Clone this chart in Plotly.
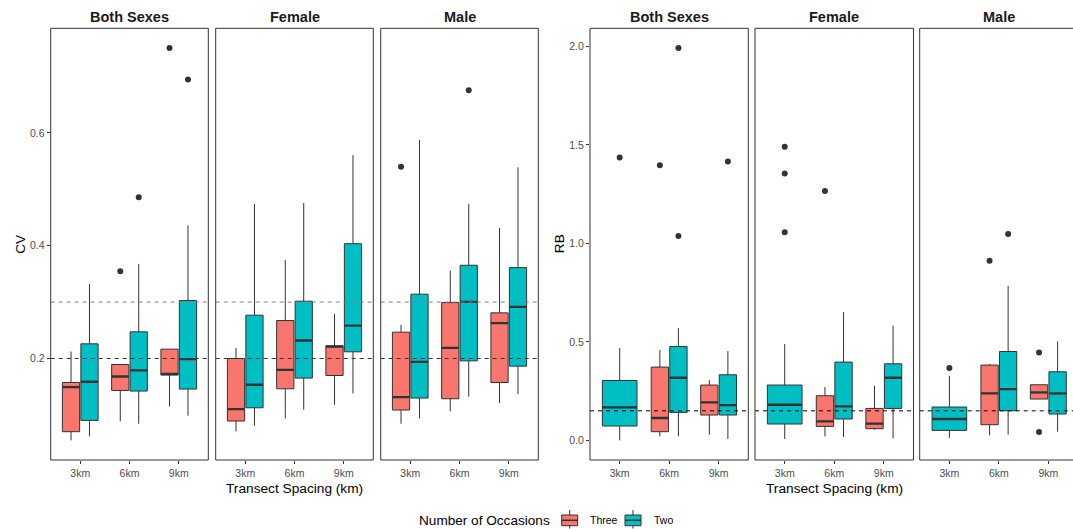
import plotly.graph_objects as go

# ---------------------------------------------------------------------------
# Data
# ---------------------------------------------------------------------------
SPACINGS = ["3km", "6km", "9km"]
SEXES = ["Both Sexes", "Female", "Male"]
GROUPS = ["Three", "Two"]
GROUP_COLORS = {"Three": "#F8766D", "Two": "#00BFC4"}

# Box statistics, ordered sex-major:
# Both Sexes 3/6/9km, Female 3/6/9km, Male 3/6/9km  (None = no data)

# CV, three occasions
cv_three_lower = [0.0549, 0.0885, 0.1150, 0.0708, 0.0938, 0.1180, 0.0844, 0.1062, 0.1210]
cv_three_q1 = [0.0703, 0.1434, 0.1706, 0.0892, 0.1464, 0.1699, 0.1087, 0.1287, 0.1575]
cv_three_median = [0.1494, 0.1681, 0.1729, 0.1104, 0.1800, 0.2212, 0.1317, 0.2189, 0.2626]
cv_three_q3 = [0.1575, 0.1894, 0.2166, 0.2000, 0.2673, 0.2225, 0.2467, 0.2991, 0.2809]
cv_three_upper = [0.2124, 0.1894, 0.2166, 0.2189, 0.3747, 0.2791, 0.2596, 0.3558, 0.4313]

# CV, two occasions
cv_two_lower = [0.0620, 0.0844, 0.0986, 0.0809, 0.1092, 0.1380, 0.0938, 0.1322, 0.1370]
cv_two_q1 = [0.0903, 0.1423, 0.1458, 0.1127, 0.1653, 0.2119, 0.1299, 0.1959, 0.1865]
cv_two_median = [0.1588, 0.1788, 0.1990, 0.1535, 0.2319, 0.2584, 0.1942, 0.3003, 0.2915]
cv_two_q3 = [0.2260, 0.2473, 0.3027, 0.2768, 0.3016, 0.4035, 0.3140, 0.3653, 0.3611]
cv_two_upper = [0.3320, 0.3676, 0.4360, 0.4738, 0.4756, 0.5605, 0.5876, 0.4738, 0.5388]

# CV outliers
cv_out_sex = ["Both Sexes", "Both Sexes", "Both Sexes", "Both Sexes", "Male", "Male"]
cv_out_spacing = ["6km", "6km", "9km", "9km", "3km", "6km"]
cv_out_group = ["Three", "Two", "Three", "Two", "Three", "Two"]
cv_out_value = [0.3547, 0.4857, 0.7505, 0.6945, 0.5398, 0.6756]

# RB, three occasions
rb_three_lower = [None, 0.0203, 0.0289, None, 0.0203, 0.0542, None, 0.0253, 0.2098]
rb_three_q1 = [None, 0.0441, 0.1287, None, 0.0710, 0.0593, None, 0.0796, 0.2098]
rb_three_median = [None, 0.1135, 0.1926, None, 0.0963, 0.0846, None, 0.2382, 0.2433]
rb_three_q3 = [None, 0.3720, 0.2808, None, 0.2266, 0.1622, None, 0.3822, 0.2823]
rb_three_upper = [None, 0.4582, 0.3060, None, 0.2707, 0.2772, None, 0.3872, 0.2823]

# RB, two occasions
rb_two_lower = [0.0000, 0.0203, 0.0071, 0.0071, 0.0172, 0.0101, 0.0122, 0.0289, 0.0441]
rb_two_q1 = [0.0730, 0.1419, 0.1287, 0.0831, 0.1085, 0.1622, 0.0507, 0.1505, 0.1338]
rb_two_median = [0.1673, 0.3178, 0.1794, 0.1809, 0.1723, 0.3178, 0.1085, 0.2605, 0.2382]
rb_two_q3 = [0.3040, 0.4764, 0.3330, 0.2808, 0.3974, 0.3887, 0.1693, 0.4511, 0.3482]
rb_two_upper = [0.4683, 0.5697, 0.4531, 0.4886, 0.6508, 0.5829, 0.3279, 0.7841, 0.5018]

# RB outliers
rb_out_sex = ["Both Sexes", "Both Sexes", "Both Sexes", "Both Sexes", "Both Sexes",
              "Female", "Female", "Female", "Female",
              "Male", "Male", "Male", "Male", "Male"]
rb_out_spacing = ["3km", "6km", "6km", "6km", "9km",
                  "3km", "3km", "3km", "6km",
                  "3km", "6km", "6km", "9km", "9km"]
rb_out_group = ["Two", "Three", "Two", "Two", "Two",
                "Two", "Two", "Two", "Three",
                "Two", "Three", "Two", "Three", "Three"]
rb_out_value = [1.436, 1.397, 1.992, 1.0375, 1.416,
                1.490, 1.355, 1.056, 1.2656,
                0.367, 0.9123, 1.0476, 0.446, 0.0426]

# Reference lines
CV_REFS = [(0.3, "#7F7F7F"), (0.2, "#333333")]
RB_REFS = [(0.15, "#000000")]

# ---------------------------------------------------------------------------
# Layout geometry (pixels)
# ---------------------------------------------------------------------------
W, H = 1073, 529
PANEL_TOP, PANEL_BOTTOM = 28.3, 460.0
PANEL_X = [(50.7, 208.3), (215.7, 373.3), (380.7, 538.3),
           (590.0, 748.3), (755.0, 913.5), (919.7, 1078.0)]
DODGE = 0.1875
BOX_W = 0.35
INK = "#333333"
FONT = "Liberation Sans, Arial, sans-serif"


def fx(px):
    return px / W


def fy(py):
    return 1 - py / H


metrics = [
    dict(name="CV", panels=[0, 1, 2],
         stats={"Three": (cv_three_lower, cv_three_q1, cv_three_median, cv_three_q3, cv_three_upper),
                "Two": (cv_two_lower, cv_two_q1, cv_two_median, cv_two_q3, cv_two_upper)},
         outliers=(cv_out_sex, cv_out_spacing, cv_out_group, cv_out_value),
         refs=CV_REFS, tickvals=[0.2, 0.4, 0.6]),
    dict(name="RB", panels=[3, 4, 5],
         stats={"Three": (rb_three_lower, rb_three_q1, rb_three_median, rb_three_q3, rb_three_upper),
                "Two": (rb_two_lower, rb_two_q1, rb_two_median, rb_two_q3, rb_two_upper)},
         outliers=(rb_out_sex, rb_out_spacing, rb_out_group, rb_out_value),
         refs=RB_REFS, tickvals=[0.0, 0.5, 1.0, 1.5, 2.0]),
]


def axis_names(i):
    suffix = "" if i == 0 else str(i + 1)
    return "x" + suffix, "y" + suffix


def box_position(stats, si, xi, group):
    """Centre and width of a box, dodged when both groups are present."""
    idx = si * 3 + xi
    present = [g for g in GROUPS if stats[g][1][idx] is not None]
    if len(present) == 1:
        return xi + 1, 2 * BOX_W
    off = -DODGE if group == "Three" else DODGE
    return xi + 1 + off, BOX_W


fig = go.Figure()
shapes = []
annotations = []
layout_axes = {}

for m in metrics:
    stats = m["stats"]
    # y range with 5% expansion on both sides
    vals = []
    for g in GROUPS:
        vals += [v for v in stats[g][0] if v is not None]
        vals += [v for v in stats[g][4] if v is not None]
    vals += list(m["outliers"][3])
    lo, hi = min(vals), max(vals)
    pad = (hi - lo) * 0.05
    yrange = [lo - pad, hi + pad]

    for si, sex in enumerate(SEXES):
        pi = m["panels"][si]
        xa, ya = axis_names(pi)
        x0px, x1px = PANEL_X[pi]
        full_w = x1px - x0px
        vis_x1 = min(x1px, W)
        units_per_px = 3.2 / full_w
        xrange = [0.4, 0.4 + (vis_x1 - x0px) * units_per_px]
        border_ext = full_w / (vis_x1 - x0px)

        med_x, med_y = [], []
        for xi in range(3):
            idx = si * 3 + xi
            for g in GROUPS:
                lower, q1, med, q3, upper = (s[idx] for s in stats[g])
                if q1 is None:
                    continue
                xc, w = box_position(stats, si, xi, g)
                fig.add_trace(go.Box(
                    x=[xc], q1=[q1], median=[med], q3=[q3],
                    lowerfence=[lower], upperfence=[upper],
                    width=w, fillcolor=GROUP_COLORS[g],
                    line=dict(color=INK, width=1), whiskerwidth=0,
                    boxpoints=False, name=g, showlegend=False,
                    xaxis=xa, yaxis=ya, hoverinfo="skip"))
                med_x += [xc - w / 2, xc + w / 2, None]
                med_y += [med, med, None]
        fig.add_trace(go.Scatter(
            x=med_x, y=med_y, mode="lines",
            line=dict(color=INK, width=2.3), showlegend=False,
            xaxis=xa, yaxis=ya, hoverinfo="skip"))

        # outliers
        o_sex, o_sp, o_g, o_v = m["outliers"]
        ox, oy = [], []
        for s, sp, g, v in zip(o_sex, o_sp, o_g, o_v):
            if s != sex:
                continue
            xi = SPACINGS.index(sp)
            xc, _ = box_position(stats, si, xi, g)
            ox.append(xc)
            oy.append(v)
        if ox:
            fig.add_trace(go.Scatter(
                x=ox, y=oy, mode="markers",
                marker=dict(color=INK, size=6), showlegend=False,
                xaxis=xa, yaxis=ya, hoverinfo="skip", cliponaxis=False))

        # reference lines
        for val, col in m["refs"]:
            shapes.append(dict(type="line", xref=f"{xa} domain", yref=ya,
                               x0=0, x1=border_ext, y0=val, y1=val,
                               line=dict(color=col, width=1, dash="4px,4px"),
                               layer="above"))

        # panel border
        shapes.append(dict(type="rect", xref=f"{xa} domain", yref=f"{ya} domain",
                           x0=0, x1=border_ext, y0=0, y1=1,
                           line=dict(color=INK, width=1),
                           fillcolor="rgba(0,0,0,0)", layer="above"))

        # strip title
        annotations.append(dict(text=f"<b>{sex}</b>", x=fx((x0px + x1px) / 2), y=fy(17),
                                xref="paper", yref="paper", showarrow=False,
                                font=dict(family=FONT, size=14.5, color="#1A1A1A"),
                                xanchor="center", yanchor="middle"))

        xkey = "xaxis" + ("" if pi == 0 else str(pi + 1))
        ykey = "yaxis" + ("" if pi == 0 else str(pi + 1))
        layout_axes[xkey] = dict(
            domain=[fx(x0px), fx(vis_x1)], range=xrange, anchor=ya,
            tickvals=[1, 2, 3], ticktext=SPACINGS,
            ticks="outside", ticklen=3, tickcolor=INK, tickwidth=1,
            tickfont=dict(family=FONT, size=10.5, color="#4D4D4D"),
            showgrid=False, zeroline=False, showline=False, fixedrange=True)
        first = si == 0
        layout_axes[ykey] = dict(
            domain=[fy(PANEL_BOTTOM), fy(PANEL_TOP)], range=yrange, anchor=xa,
            tickvals=m["tickvals"] if first else [], tickformat=".1f",
            ticks="outside" if first else "", ticklen=3, tickcolor=INK, tickwidth=1,
            showticklabels=first,
            tickfont=dict(family=FONT, size=10.5, color="#4D4D4D"),
            showgrid=False, zeroline=False, showline=False, fixedrange=True)

    # axis titles
    p0 = PANEL_X[m["panels"][0]][0]
    p1 = PANEL_X[m["panels"][-1]][1]
    annotations.append(dict(text="Transect Spacing (km)", x=fx((p0 + p1) / 2), y=fy(488),
                            xref="paper", yref="paper", showarrow=False,
                            font=dict(family=FONT, size=13.7, color="#000000"),
                            xanchor="center", yanchor="middle"))
    annotations.append(dict(text=m["name"], x=fx(p0 - 31), y=fy((PANEL_TOP + PANEL_BOTTOM) / 2),
                            xref="paper", yref="paper", showarrow=False, textangle=-90,
                            font=dict(family=FONT, size=13.7, color="#000000"),
                            xanchor="center", yanchor="middle"))

# ---------------------------------------------------------------------------
# Legend (bottom centre)
# ---------------------------------------------------------------------------
annotations.append(dict(text="Number of Occasions", x=fx(552), y=fy(520),
                        xref="paper", yref="paper", showarrow=False,
                        font=dict(family=FONT, size=13.6, color="#000000"),
                        xanchor="right", yanchor="middle"))
legend_keys = [("Three", 561.7, 588.3), ("Two", 625.0, 651.7)]
for g, kx, tx in legend_keys:
    cx = kx + 8
    shapes.append(dict(type="line", xref="paper", yref="paper",
                       x0=fx(cx), x1=fx(cx), y0=fy(510), y1=fy(528.5),
                       line=dict(color=INK, width=1)))
    shapes.append(dict(type="rect", xref="paper", yref="paper",
                       x0=fx(kx), x1=fx(kx + 16), y0=fy(525.7), y1=fy(515),
                       fillcolor=GROUP_COLORS[g], line=dict(color=INK, width=1)))
    shapes.append(dict(type="line", xref="paper", yref="paper",
                       x0=fx(kx), x1=fx(kx + 16), y0=fy(520.3), y1=fy(520.3),
                       line=dict(color=INK, width=1.5)))
    annotations.append(dict(text=g, x=fx(tx), y=fy(520),
                            xref="paper", yref="paper", showarrow=False,
                            font=dict(family=FONT, size=10.5, color="#000000"),
                            xanchor="left", yanchor="middle"))

fig.update_layout(
    width=W, height=H,
    margin=dict(l=0, r=0, t=0, b=0),
    paper_bgcolor="white", plot_bgcolor="white",
    showlegend=False, boxmode="overlay",
    shapes=shapes, annotations=annotations,
    font=dict(family=FONT),
    **layout_axes,
)

fig.write_html("out.html", config={"displayModeBar": False})
